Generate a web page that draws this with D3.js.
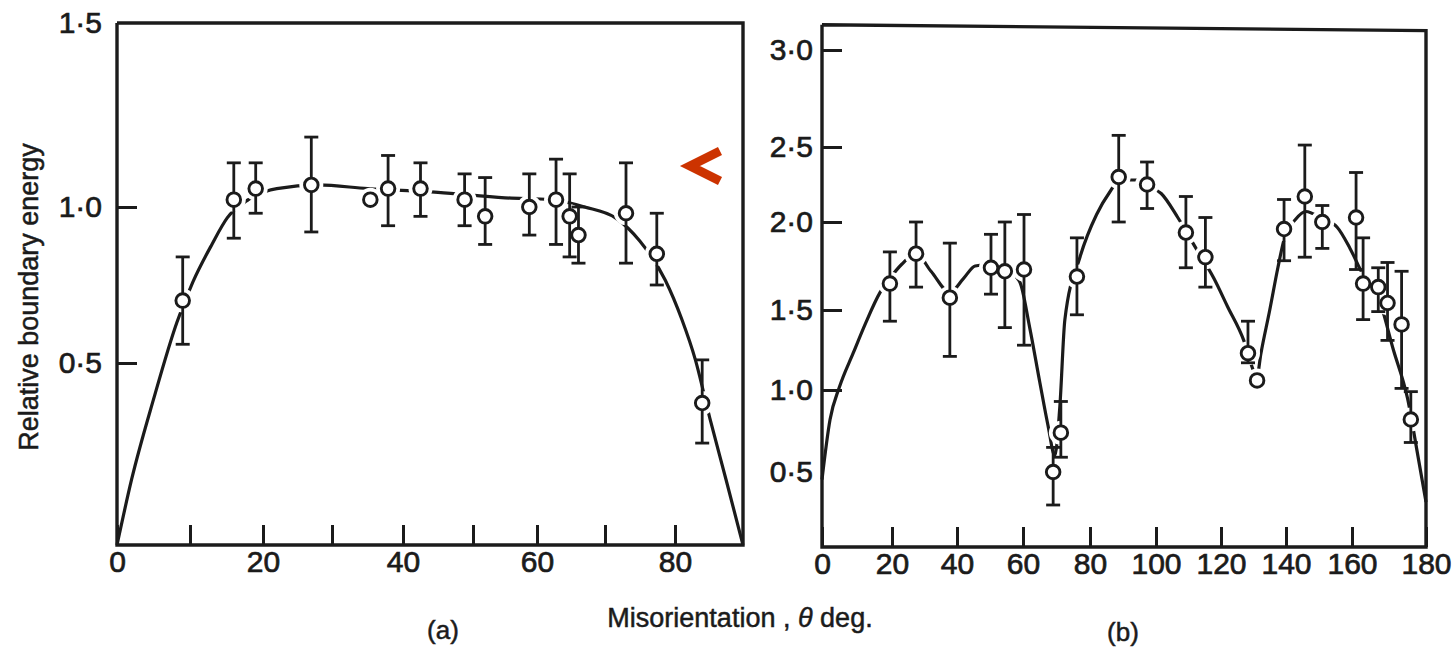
<!DOCTYPE html>
<html>
<head>
<meta charset="utf-8">
<script src="https://cdn.jsdelivr.net/npm/d3@7.9.0/dist/d3.min.js"></script>
<style>
  body { margin: 0; background: #fff; }
  svg { display: block; font-family: "Liberation Sans", Arial, sans-serif; }
</style>
</head>
<body>
<svg id="chart" width="1454" height="650"></svg>
<script>
// ---- panel (a) data ----
const degA    = [9.0, 16.0, 19.0, 27.0, 35.4, 37.9, 42.5, 48.8, 51.9, 58.8, 62.8, 64.8, 66.1, 73.0, 77.4, 84.0];
const energyA = [0.70, 1.02, 1.05, 1.06, 1.02, 1.05, 1.05, 1.02, 0.97, 1.00, 1.02, 0.97, 0.91, 0.98, 0.85, 0.39];
const errHiA  = [0.84, 1.12, 1.12, 1.19, null, 1.14, 1.12, 1.09, 1.08, 1.09, 1.13, 1.09, 1.00, 1.12, 0.98, 0.51];
const errLoA  = [0.56, 0.90, 0.98, 0.92, null, 0.94, 0.97, 0.94, 0.88, 0.91, 0.88, 0.84, 0.82, 0.82, 0.75, 0.28];

// fitted curve (a)
const curveDegA = [0, 2, 5, 8.2, 10.4, 13, 15.1, 18, 22, 28, 35, 45, 55, 62, 67, 71.5, 75, 78.6, 81, 83, 85.1, 87.5, 90];
const curveValA = [0, 0.18, 0.40, 0.63, 0.76, 0.88, 0.965, 1.02, 1.05, 1.06, 1.05, 1.04, 1.025, 1.02, 1.0, 0.965, 0.89, 0.766, 0.64, 0.51, 0.35, 0.18, 0];

// ---- panel (b) data ----
const degB    = [19.4, 27.4, 37.8, 50.3, 54.5, 60.3, 69.0, 71.3, 76.1, 88.7, 97.3, 109.2, 115.2, 128.3, 131.1, 139.4, 145.7, 151.0, 161.1, 163.0, 167.1, 169.6, 173.4, 175.9];
const energyB = [1.65, 1.82, 1.57, 1.74, 1.72, 1.73, 0.50, 0.74, 1.69, 2.30, 2.25, 1.94, 1.80, 1.23, 1.06, 1.96, 2.17, 2.00, 2.03, 1.65, 1.63, 1.54, 1.41, 0.82];
const errHiB  = [1.83, 2.00, 1.88, 1.93, 2.00, 2.05, 0.65, 0.93, 1.91, 2.56, 2.40, 2.17, 2.03, 1.43, null, 2.15, 2.51, 2.11, 2.33, 1.91, 1.74, 1.77, 1.72, 0.99];
const errLoB  = [1.43, 1.63, 1.21, 1.59, 1.39, 1.28, 0.28, 0.59, 1.47, 2.00, 2.09, 1.74, 1.63, 1.17, null, 1.78, 1.80, 1.85, 1.73, 1.44, 1.49, 1.31, 1.01, 0.68];

// fitted curve (b)
const curveDegB = [0, 2.3, 5, 8.9, 12.5, 16.6, 19.4, 23, 27.4, 32, 37.8, 42, 45.5, 50.3, 55, 59, 62, 65, 67.5, 69.5, 71, 72.5, 77, 82, 86, 89, 94, 97.3, 101.6, 106.7, 112, 117.8, 122, 127, 130, 131, 132.3, 135, 137.5, 139.4, 143, 146, 151, 155.5, 159.4, 163, 167, 171.2, 175, 177.8, 180];
const curveValB = [0.45, 0.82, 1.02, 1.23, 1.42, 1.60, 1.68, 1.76, 1.82, 1.72, 1.60, 1.68, 1.75, 1.76, 1.73, 1.66, 1.39, 1.05, 0.78, 0.60, 0.90, 1.44, 1.80, 2.05, 2.20, 2.28, 2.28, 2.24, 2.19, 2.03, 1.86, 1.68, 1.52, 1.31, 1.12, 1.08, 1.23, 1.50, 1.74, 1.90, 2.02, 2.07, 2.02, 1.97, 1.85, 1.70, 1.58, 1.25, 0.95, 0.60, 0.30];

// ticks
const xTicksA  = [0, 10, 20, 30, 40, 50, 60, 70, 80];
const xLabelsA = [0, 20, 40, 60, 80];
const yTicksA  = [0.5, 1.0, 1.5];
const xTicksB  = [0, 20, 40, 60, 80, 100, 120, 140, 160, 180];
const yTicksB  = [0.5, 1.0, 1.5, 2.0, 2.5, 3.0];

const ink = '#1b1b1b';
const svg = d3.select('#chart');

// the scanned axes are not quite evenly spaced, so the scales follow the printed ticks
const xA = d3.scaleLinear()
  .domain([0, 10, 20, 30, 40, 50, 60, 70, 80, 90])
  .range([117, 190, 263, 332, 403, 473, 537, 605, 675, 743]);
const yA = d3.scaleLinear()
  .domain([0, 0.5, 1.0, 1.5])
  .range([545, 363, 207, 23]);

const xB = d3.scaleLinear()
  .domain([0, 20, 40, 60, 80, 100, 120, 140, 160, 180])
  .range([822, 892, 957, 1023, 1090, 1156, 1221, 1286, 1352, 1426]);
const yB = d3.scaleLinear()
  .domain([0, 0.5, 1.0, 1.5, 2.0, 2.5, 3.0])
  .range([547, 472, 390, 310, 222, 147, 50]);

const fmt = v => d3.format('.1f')(v).replace('.', '\u00b7');

// heavier text, like the scanned print
function inked(sel, size) {
  sel.attr('fill', ink)
    .attr('stroke', ink)
    .attr('stroke-width', 0.7)
    .style('font-size', size + 'px')
    .style('font-family', '"Liberation Sans", Arial, sans-serif');
  return sel;
}

function drawPanel(p) {
  const g = svg.append('g');
  const x = p.x, y = p.y;
  const xMax = x.domain()[x.domain().length - 1];

  // frame
  const corners = [[0, p.topL], [0, 0], [xMax, 0], [xMax, p.topR], [0, p.topL]];
  g.append('path')
    .attr('d', d3.line().x(d => x(d[0])).y(d => y(d[1]))(corners))
    .attr('fill', 'none')
    .attr('stroke', ink)
    .attr('stroke-width', 3.4);

  // x axis (ticks point inward)
  const ax = g.append('g')
    .attr('transform', `translate(0,${y(0)})`)
    .call(d3.axisBottom(x)
      .tickValues(p.xTicks)
      .tickSizeInner(-20)
      .tickSizeOuter(0)
      .tickPadding(6)
      .tickFormat(d => p.xLabels.includes(d) ? d : ''));

  // y axis
  const ay = g.append('g')
    .attr('transform', `translate(${x(0)},0)`)
    .call(d3.axisLeft(y)
      .tickValues(p.yTicks)
      .tickSizeInner(-20)
      .tickSizeOuter(0)
      .tickPadding(p.yPad)
      .tickFormat(fmt));

  [ax, ay].forEach(a => {
    a.select('.domain').remove();
    a.selectAll('line').attr('stroke', ink).attr('stroke-width', 3);
    inked(a.selectAll('text'), 30);
  });
  ay.selectAll('.tick').filter(d => p.yNoTick.includes(d)).select('line').remove();

  // fitted curve
  g.append('path')
    .attr('d', d3.line()
      .x(d => x(d))
      .y((d, i) => y(p.cVal[i]))
      .curve(d3.curveMonotoneX)(p.cDeg))
    .attr('fill', 'none')
    .attr('stroke', ink)
    .attr('stroke-width', 3.2);

  // gaps in the curve round each point
  g.selectAll('.halo')
    .data(p.deg)
    .join('circle')
    .attr('cx', d => x(d))
    .attr('cy', (d, i) => y(p.val[i]))
    .attr('r', 12)
    .attr('fill', '#fff');

  // error bars
  const idx = d3.range(p.deg.length).filter(i => p.hi[i] != null);
  const eb = g.append('g')
    .attr('stroke', ink)
    .attr('stroke-width', 2.8)
    .attr('fill', 'none');
  eb.selectAll('.bar').data(idx).join('line')
    .attr('x1', i => x(p.deg[i])).attr('x2', i => x(p.deg[i]))
    .attr('y1', i => y(p.hi[i])).attr('y2', i => y(p.lo[i]));
  eb.selectAll('.capHi').data(idx).join('line')
    .attr('x1', i => x(p.deg[i]) - 7).attr('x2', i => x(p.deg[i]) + 7)
    .attr('y1', i => y(p.hi[i])).attr('y2', i => y(p.hi[i]));
  eb.selectAll('.capLo').data(idx).join('line')
    .attr('x1', i => x(p.deg[i]) - 7).attr('x2', i => x(p.deg[i]) + 7)
    .attr('y1', i => y(p.lo[i])).attr('y2', i => y(p.lo[i]));

  // open circle markers
  g.selectAll('.pt')
    .data(p.deg)
    .join('circle')
    .attr('cx', d => x(d))
    .attr('cy', (d, i) => y(p.val[i]))
    .attr('r', 6.8)
    .attr('fill', '#fff')
    .attr('stroke', ink)
    .attr('stroke-width', 2.9);
}

drawPanel({
  x: xA, y: yA, topL: 1.5, topR: 1.5,
  deg: degA, val: energyA, hi: errHiA, lo: errLoA,
  cDeg: curveDegA, cVal: curveValA,
  xTicks: xTicksA, xLabels: xLabelsA,
  yTicks: yTicksA, yNoTick: [1.5], yPad: 15
});

drawPanel({
  x: xB, y: yB, topL: 3.13, topR: 3.10,
  deg: degB, val: energyB, hi: errHiB, lo: errLoB,
  cDeg: curveDegB, cVal: curveValB,
  xTicks: xTicksB, xLabels: xTicksB,
  yTicks: yTicksB, yNoTick: [0.5], yPad: 9
});

// titles
inked(svg.append('text'), 27)
  .attr('transform', 'translate(38,297) rotate(-90)')
  .attr('text-anchor', 'middle')
  .attr('stroke-width', 0.5)
  .text('Relative boundary energy');

const xt = inked(svg.append('text'), 27)
  .attr('x', 740).attr('y', 627)
  .attr('stroke-width', 0.5)
  .attr('text-anchor', 'middle');
xt.append('tspan').text('Misorientation , ');
xt.append('tspan').style('font-style', 'italic').text('\u03b8');
xt.append('tspan').text(' deg.');

inked(svg.append('text'), 26)
  .attr('x', 443).attr('y', 639)
  .attr('stroke-width', 0.5)
  .attr('text-anchor', 'middle')
  .text('(a)');

inked(svg.append('text'), 26)
  .attr('x', 1123).attr('y', 641)
  .attr('stroke-width', 0.5)
  .attr('text-anchor', 'middle')
  .text('(b)');

// red marker beside panel (a)
svg.append('path')
  .attr('d', 'M720,151 L690,166 L720,181')
  .attr('fill', 'none')
  .attr('stroke', '#cc3300')
  .attr('stroke-width', 9)
  .attr('stroke-linejoin', 'miter');
</script>
</body>
</html>
